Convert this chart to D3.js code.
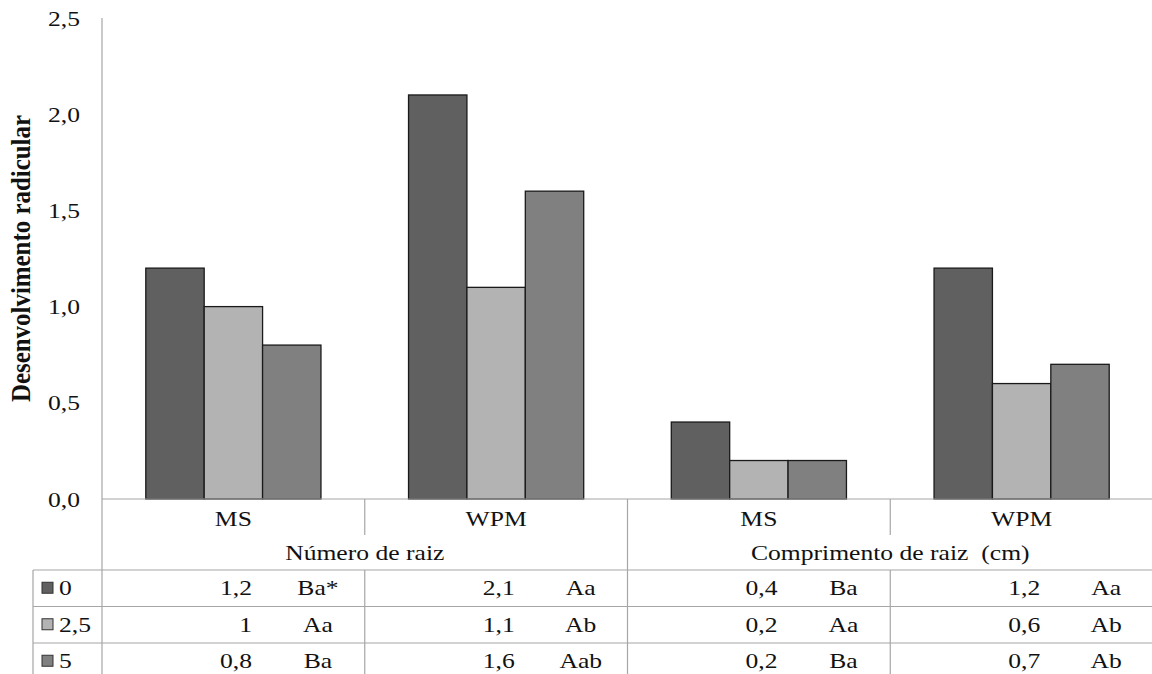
<!DOCTYPE html>
<html>
<head>
<meta charset="utf-8">
<script src="https://cdn.jsdelivr.net/npm/d3@7"></script>
<style>
  html, body { margin: 0; padding: 0; background: #fff; }
  svg { display: block; }
  text { font-family: "Liberation Serif", "Times New Roman", serif; fill: #111; white-space: pre; }
</style>
</head>
<body>
<svg id="chart" width="1152" height="674"></svg>
<script>
// ---- data ----
const categories = ["MS", "WPM", "MS", "WPM"];
const groupLabels = ["Número de raiz", "Comprimento de raiz  (cm)"];
const seriesNames = ["0", "2,5", "5"];
const values0  = [1.2, 2.1, 0.4, 1.2];
const values25 = [1, 1.1, 0.2, 0.6];
const values5  = [0.8, 1.6, 0.2, 0.7];
const letters0  = ["Ba*", "Aa", "Ba", "Aa"];
const letters25 = ["Aa", "Ab", "Aa", "Ab"];
const letters5  = ["Ba", "Aab", "Ba", "Ab"];
const yTicks = [0, 0.5, 1.0, 1.5, 2.0, 2.5];
const yLabel = "Desenvolvimento radicular";
const seriesColors = ["#606060", "#b3b3b3", "#808080"];

const seriesValues = [values0, values25, values5];
const seriesLetters = [letters0, letters25, letters5];

// ---- layout ----
const svg = d3.select("#chart");
const pLeft = 102, pRight = 1153, pTop = 18, pBottom = 499;
const tableLeft = 33;
const rowTop = 570, rowH = 36.5;
const SX = 1.22;
const FS = 21;
const gridColor = "#a6a6a6";

const x0 = d3.scaleBand().domain(d3.range(categories.length)).range([pLeft, pRight]).paddingInner(0).paddingOuter(0);
const x1 = d3.scaleBand().domain(d3.range(seriesNames.length)).range([0, x0.bandwidth()]).paddingInner(0).paddingOuter(0.75);
const y = d3.scaleLinear().domain([0, 2.5]).range([pBottom, pTop]);

const fmt = v => String(v).replace(".", ",");
const fmt1 = v => d3.format(".1f")(v).replace(".", ",");

function stext(g, x, yy, str, anchor, opts = {}) {
  return g.append("text")
    .attr("transform", `translate(${x},${yy}) scale(${SX},1)`)
    .attr("text-anchor", anchor)
    .attr("xml:space", "preserve")
    .attr("font-size", opts.size || FS)
    .text(str);
}

// ---- bars ----
const barsG = svg.append("g");
seriesValues.forEach((vals, si) => {
  barsG.selectAll(null).data(vals).enter().append("rect")
    .attr("x", (d, i) => x0(i) + x1(si))
    .attr("y", d => y(d))
    .attr("width", x1.bandwidth())
    .attr("height", d => y(0) - y(d))
    .attr("fill", seriesColors[si])
    .attr("stroke", "#1a1a1a")
    .attr("stroke-width", 1.3);
});

// ---- y axis ----
const yAxis = d3.axisLeft(y).tickValues(yTicks).tickSize(0).tickPadding(0).tickFormat(fmt1);
const yAxisG = svg.append("g").attr("transform", `translate(${pLeft},0)`).call(yAxis);
yAxisG.select(".domain").remove();
yAxisG.selectAll(".tick text").remove();
yAxisG.selectAll(".tick").each(function(d) {
  d3.select(this).append("text")
    .attr("transform", `translate(-22,7) scale(${SX},1)`)
    .attr("text-anchor", "end")
    .attr("font-size", FS)
    .text(fmt1(d));
});

// y axis label
svg.append("text")
  .attr("transform", `translate(30,${(pTop + pBottom) / 2}) rotate(-90)`)
  .attr("text-anchor", "middle")
  .attr("font-size", 27)
  .attr("font-weight", "bold")
  .attr("textLength", 287)
  .attr("lengthAdjust", "spacingAndGlyphs")
  .text(yLabel);

// ---- grid / table lines ----
const lines = svg.append("g").attr("stroke", gridColor).attr("stroke-width", 1.2).attr("fill", "none");
lines.append("line").attr("x1", pLeft).attr("x2", pLeft).attr("y1", pTop).attr("y2", 674);
lines.append("line").attr("x1", pLeft).attr("x2", 1152).attr("y1", pBottom).attr("y2", pBottom);
[1, 3].forEach(i => {
  lines.append("line").attr("x1", x0(i)).attr("x2", x0(i)).attr("y1", pBottom).attr("y2", 535);
  lines.append("line").attr("x1", x0(i)).attr("x2", x0(i)).attr("y1", rowTop).attr("y2", 674);
});
lines.append("line").attr("x1", x0(2)).attr("x2", x0(2)).attr("y1", pBottom).attr("y2", 674);
for (let r = 0; r <= seriesNames.length; r++) {
  lines.append("line").attr("x1", tableLeft).attr("x2", 1152)
    .attr("y1", rowTop + r * rowH).attr("y2", rowTop + r * rowH);
}
lines.append("line").attr("x1", tableLeft).attr("x2", tableLeft).attr("y1", rowTop).attr("y2", 674);

// ---- category labels ----
const labG = svg.append("g");
categories.forEach((c, i) => {
  stext(labG, x0(i) + x0.bandwidth() / 2, 526, c, "middle");
});
groupLabels.forEach((g, gi) => {
  const cx = (x0(gi * 2) + x0(gi * 2 + 1) + x0.bandwidth()) / 2;
  stext(labG, cx, 560, g, "middle");
});

// ---- table ----
const tab = svg.append("g");
seriesNames.forEach((s, si) => {
  const cy = rowTop + si * rowH + rowH / 2;
  tab.append("rect")
    .attr("x", 42).attr("y", cy - 6)
    .attr("width", 11).attr("height", 11)
    .attr("fill", seriesColors[si])
    .attr("stroke", "#333").attr("stroke-width", 1);
  stext(tab, 59, cy + 7, s, "start");
  seriesValues[si].forEach((v, i) => {
    stext(tab, x0(i) + 150, cy + 7, fmt(v), "end");
    stext(tab, x0(i) + 216, cy + 7, seriesLetters[si][i], "middle");
  });
});
</script>
</body>
</html>
